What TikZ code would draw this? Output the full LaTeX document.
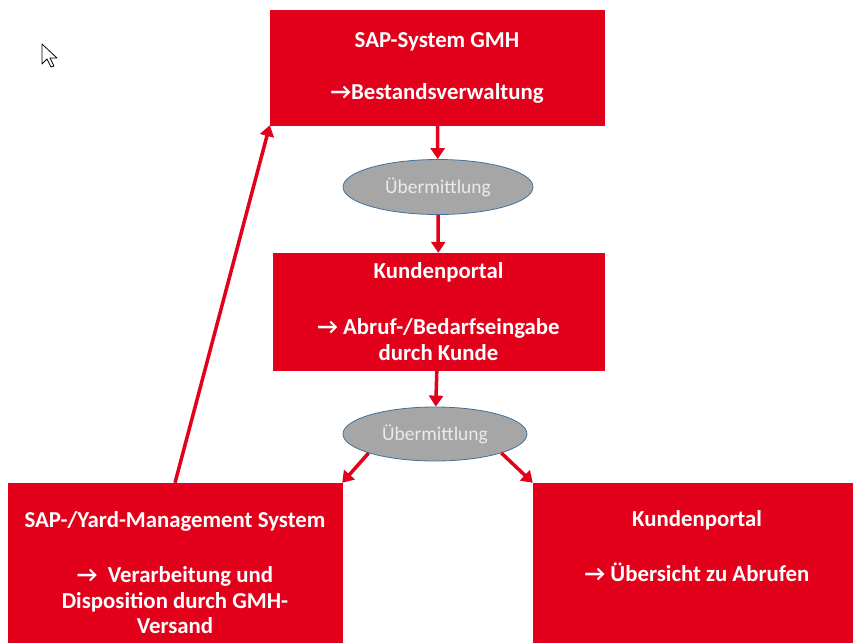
\documentclass[tikz,border=0pt]{standalone}
\usepackage{fontspec}
\setmainfont{Carlito}
\usetikzlibrary{shapes.geometric,arrows.meta}
\definecolor{gmhred}{RGB}{226,0,26}
\definecolor{txgray}{RGB}{166,166,166}
\definecolor{txedge}{RGB}{65,113,156}
\definecolor{txtext}{RGB}{235,235,235}
\begin{document}
\begin{tikzpicture}[x=1pt,y=-1pt,
    sysbox/.style={rectangle,fill=gmhred,draw=gmhred,text=white,align=center,font=\fontsize{22.8}{25.5}\selectfont\bfseries,inner sep=0pt},
    txell/.style={ellipse,fill=txgray,draw=txedge,line width=0.8pt,text=txtext,font=\fontsize{19.5}{22}\selectfont,inner sep=0pt},
    flow/.style={draw=gmhred,line width=3.5pt,-{Triangle[length=11pt,width=14pt]}}]
                \useasboundingbox (0,0) rectangle (853,642);
                \node[sysbox,minimum width=334pt,minimum height=115pt] (sap) at (437,67.5) {SAP-System GMH\\[26.5pt]→Bestandsverwaltung};
                \node[txell,minimum width=190pt,minimum height=55pt] (tx1) at (438,187) {Übermittlung};
                \node[sysbox,minimum width=331pt,minimum height=117pt] (portal) at (438.5,311.5) {Kundenportal\\[30.5pt]→ Abruf-/Bedarfseingabe\\durch Kunde};
                \node[txell,minimum width=184pt,minimum height=54pt] (tx2) at (435,434) {Übermittlung};
                \node[sysbox,minimum width=334pt,minimum height=180pt] (yard) at (175,573) {SAP-/Yard-Management System\\[29.5pt]→\ \ Verarbeitung und\\Disposition durch GMH-\\Versand};
                \node[sysbox,minimum width=328pt,minimum height=180pt,text depth=55pt] (overview) at (697,573) {Kundenportal\\[29.5pt]→ Übersicht zu Abrufen};

                \draw[flow] (sap) to (tx1); \draw[flow] (tx1) to (portal); \draw[flow] (portal) to (tx2);
                \draw[flow] (tx2.196) to (yard.north east); \draw[flow] (tx2.-16) to (overview.north west); \draw[flow] (yard.north) to (sap.south west);

                % mouse pointer
                \draw[fill=white,line width=0.8pt,line join=round] (42,44) -- (42,64) -- (47,59) -- (51,67) -- (54,66) -- (50,58) -- (57,58) -- cycle;
            \end{tikzpicture}
\end{document}
